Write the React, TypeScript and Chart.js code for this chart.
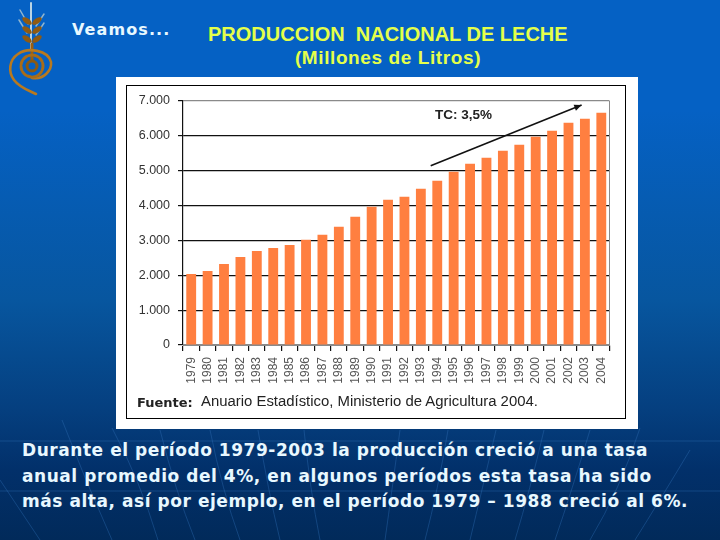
import { useEffect, useRef } from "react";
import { Chart, registerables } from "chart.js";

Chart.register(...registerables);

const years = [
  "1979", "1980", "1981", "1982", "1983", "1984", "1985", "1986", "1987",
  "1988", "1989", "1990", "1991", "1992", "1993", "1994", "1995", "1996",
  "1997", "1998", "1999", "2000", "2001", "2002", "2003", "2004",
];
const production = [
  2040, 2126, 2327, 2528, 2700, 2786, 2872, 3016, 3160, 3390, 3677, 3964,
  4165, 4251, 4481, 4711, 4969, 5199, 5371, 5572, 5745, 5975, 6147, 6376,
  6491, 6664,
];
// category index, value
const trendStart = [14.6, 5142];
const trendEnd = [23.8, 6885];
const trendLabel = [16.6, 6578];

const bodyLines = [
  "Durante el período 1979-2003 la producción creció a una tasa",
  "anual promedio del 4%, en algunos períodos esta tasa ha sido",
  "más alta, así por ejemplo, en el período 1979 – 1988 creció al 6%.",
];

const backLines = [
  "M0 480 L40 540", "M62 420 Q85 480 112 540", "M112 428 Q140 480 158 540",
  "M160 430 Q175 490 195 540", "M210 430 Q222 490 240 540", "M258 430 Q268 490 280 540",
  "M304 430 Q310 490 320 540", "M400 430 Q392 490 385 540", "M448 430 Q438 490 425 540",
  "M496 430 Q482 490 470 540", "M544 430 Q530 490 515 540", "M590 430 Q572 490 555 540",
  "M640 428 Q620 490 590 540", "M690 450 Q660 500 635 540", "M0 441 H720", "M0 491 H720",
];

const plotExtras = {
  id: "plotExtras",
  afterDraw(chart: Chart) {
    const { ctx, chartArea, scales } = chart;
    const sx = scales.x;
    const sy = scales.y;
    ctx.save();
    // grey right edge of the plot
    ctx.strokeStyle = "#8a8a8a";
    ctx.lineWidth = 1;
    ctx.beginPath();
    ctx.moveTo(chartArea.right, chartArea.top);
    ctx.lineTo(chartArea.right, chartArea.bottom);
    ctx.stroke();

    // trend arrow
    const x0 = sx.getPixelForValue(trendStart[0]);
    const y0 = sy.getPixelForValue(trendStart[1]);
    const x1 = sx.getPixelForValue(trendEnd[0]);
    const y1 = sy.getPixelForValue(trendEnd[1]);
    const a = Math.atan2(y1 - y0, x1 - x0);
    ctx.strokeStyle = "#111";
    ctx.fillStyle = "#111";
    ctx.lineWidth = 1.6;
    ctx.beginPath();
    ctx.moveTo(x0, y0);
    ctx.lineTo(x1, y1);
    ctx.stroke();
    ctx.beginPath();
    ctx.moveTo(x1, y1);
    ctx.lineTo(x1 - 8 * Math.cos(a - 0.4), y1 - 8 * Math.sin(a - 0.4));
    ctx.lineTo(x1 - 8 * Math.cos(a + 0.4), y1 - 8 * Math.sin(a + 0.4));
    ctx.closePath();
    ctx.fill();

    ctx.font = "bold 13.5px 'Liberation Sans'";
    ctx.fillStyle = "#222";
    ctx.textAlign = "center";
    ctx.textBaseline = "middle";
    ctx.fillText("TC: 3,5%", sx.getPixelForValue(trendLabel[0]), sy.getPixelForValue(trendLabel[1]));
    ctx.restore();
  },
};

const Logo = () => (
  <svg width="60" height="100" style={{ position: "absolute", left: 0, top: 0 }}>
    <g fill="none" strokeLinecap="round">
      <path d="M31 3 V50" stroke="#b9d4e4" strokeWidth="2" />
      <path d="M20 10 L28 24 M44 14 L36 26 M19 20 L27 33 M44 23 L36 35" stroke="#8fb5cf" strokeWidth="1.5" />
      <path d="M32 44 V60" stroke="#9a5f10" strokeWidth="3" />
      <path
        d="M32 78 C44 80 52 70 51 62 C48 50 28 47 18 54 C9 60 8 72 14 80 C20 88 28 90 36 94"
        stroke="#b8791f"
        strokeWidth="2.6"
      />
      <circle cx="32" cy="66" r="11" stroke="#a86c18" strokeWidth="3" strokeDasharray="4 2" />
      <circle cx="32" cy="66" r="5" stroke="#8a5a12" strokeWidth="3" />
    </g>
    <g fill="#8f5a12">
      <ellipse cx="27" cy="21" rx="5.5" ry="2.6" transform="rotate(35 27 21)" />
      <ellipse cx="37" cy="21" rx="5.5" ry="2.6" transform="rotate(-35 37 21)" />
      <ellipse cx="27" cy="30" rx="5.5" ry="2.6" transform="rotate(35 27 30)" />
      <ellipse cx="37" cy="30" rx="5.5" ry="2.6" transform="rotate(-35 37 30)" />
      <ellipse cx="27" cy="39" rx="5.5" ry="2.6" transform="rotate(35 27 39)" />
      <ellipse cx="37" cy="39" rx="5.5" ry="2.6" transform="rotate(-35 37 39)" />
    </g>
  </svg>
);

export default function App() {
  const canvasRef = useRef<HTMLCanvasElement>(null);

  useEffect(() => {
    if (!canvasRef.current) return;
    const chart = new Chart(canvasRef.current, {
      type: "bar",
      data: {
        labels: years,
        datasets: [
          {
            data: production,
            backgroundColor: "#ff7f40",
            barPercentage: 0.6,
            categoryPercentage: 1,
          },
        ],
      },
      options: {
        responsive: false,
        animation: false,
        layout: { padding: { top: 16, right: 15.5, left: 0, bottom: 0 } },
        plugins: { legend: { display: false }, tooltip: { enabled: false } },
        scales: {
          x: {
            afterFit: (scale) => {
              scale.height = 73;
            },
            border: { color: "#8a8a8a", width: 1 },
            grid: { drawOnChartArea: false, color: "#111", tickLength: 6, lineWidth: 1.2 },
            ticks: {
              minRotation: 90,
              maxRotation: 90,
              autoSkip: false,
              padding: 6,
              color: "#555",
              font: { family: "'Liberation Sans'", size: 12 },
            },
          },
          y: {
            min: 0,
            max: 7000,
            afterFit: (scale) => {
              scale.width = 57;
            },
            border: { color: "#111", width: 1.2 },
            grid: {
              color: (c) => (c.tick.value === 7000 ? "#8a8a8a" : c.tick.value === 0 ? "#8a8a8a" : "#111"),
              lineWidth: 1.2,
              tickLength: 5,
              tickColor: "#111",
            },
            ticks: {
              stepSize: 1000,
              padding: 8,
              color: "#333",
              font: { family: "'Liberation Sans'", size: 12.5 },
              callback: (v) => Number(v).toLocaleString("de-DE"),
            },
          },
        },
      },
      plugins: [plotExtras],
    });
    return () => chart.destroy();
  }, []);

  return (
    <div
      style={{
        position: "absolute",
        left: 0,
        top: 0,
        width: 720,
        height: 540,
        overflow: "hidden",
        background:
          "linear-gradient(180deg, #0561c4 0px, #0561c4 110px, #07569f 300px, #053f7f 410px, #02306a 470px, #012a5a 540px)",
      }}
    >
      <svg width="720" height="540" style={{ position: "absolute", left: 0, top: 0 }}>
        {backLines.map((d) => (
          <path key={d} d={d} fill="none" stroke="#2f6fb5" strokeOpacity="0.4" strokeWidth="1" />
        ))}
      </svg>
      <Logo />
      <div
        style={{
          position: "absolute",
          left: 72,
          top: 20,
          font: "bold 16px 'DejaVu Sans'",
          letterSpacing: 1.1,
          color: "#e8f8ff",
          whiteSpace: "nowrap",
        }}
      >
        Veamos...
      </div>
      <div
        style={{
          position: "absolute",
          left: 208,
          top: 23,
          font: "bold 20px 'Liberation Sans'",
          color: "#e4ff4a",
          whiteSpace: "pre",
        }}
      >
        {"PRODUCCION  NACIONAL DE LECHE"}
      </div>
      <div
        style={{
          position: "absolute",
          left: 208,
          width: 360,
          top: 47,
          textAlign: "center",
          font: "bold 19px 'Liberation Sans'",
          letterSpacing: 0.6,
          color: "#e4ff4a",
          whiteSpace: "nowrap",
        }}
      >
        (Millones de Litros)
      </div>
      <div style={{ position: "absolute", left: 116, top: 77, width: 522, height: 352, background: "#fff" }} />
      <div
        style={{
          position: "absolute",
          left: 126,
          top: 85,
          width: 498,
          height: 332,
          border: "1px solid #000",
        }}
      />
      <canvas
        ref={canvasRef}
        width={499}
        height={333}
        style={{ position: "absolute", left: 126, top: 85 }}
      />
      <div
        style={{
          position: "absolute",
          left: 137,
          top: 395,
          font: "bold 13px 'DejaVu Sans'",
          color: "#222",
          whiteSpace: "nowrap",
        }}
      >
        Fuente:
      </div>
      <div
        style={{
          position: "absolute",
          left: 201,
          top: 393,
          font: "14.9px 'Liberation Sans'",
          color: "#222",
          whiteSpace: "nowrap",
        }}
      >
        Anuario Estadístico, Ministerio de Agricultura 2004.
      </div>
      {bodyLines.map((line, i) => (
        <div
          key={line}
          style={{
            position: "absolute",
            left: 22,
            top: 440 + i * 25.7,
            font: "bold 17px 'DejaVu Sans'",
            letterSpacing: 0.55,
            color: "#e8f8ff",
            whiteSpace: "nowrap",
          }}
        >
          {line}
        </div>
      ))}
    </div>
  );
}
